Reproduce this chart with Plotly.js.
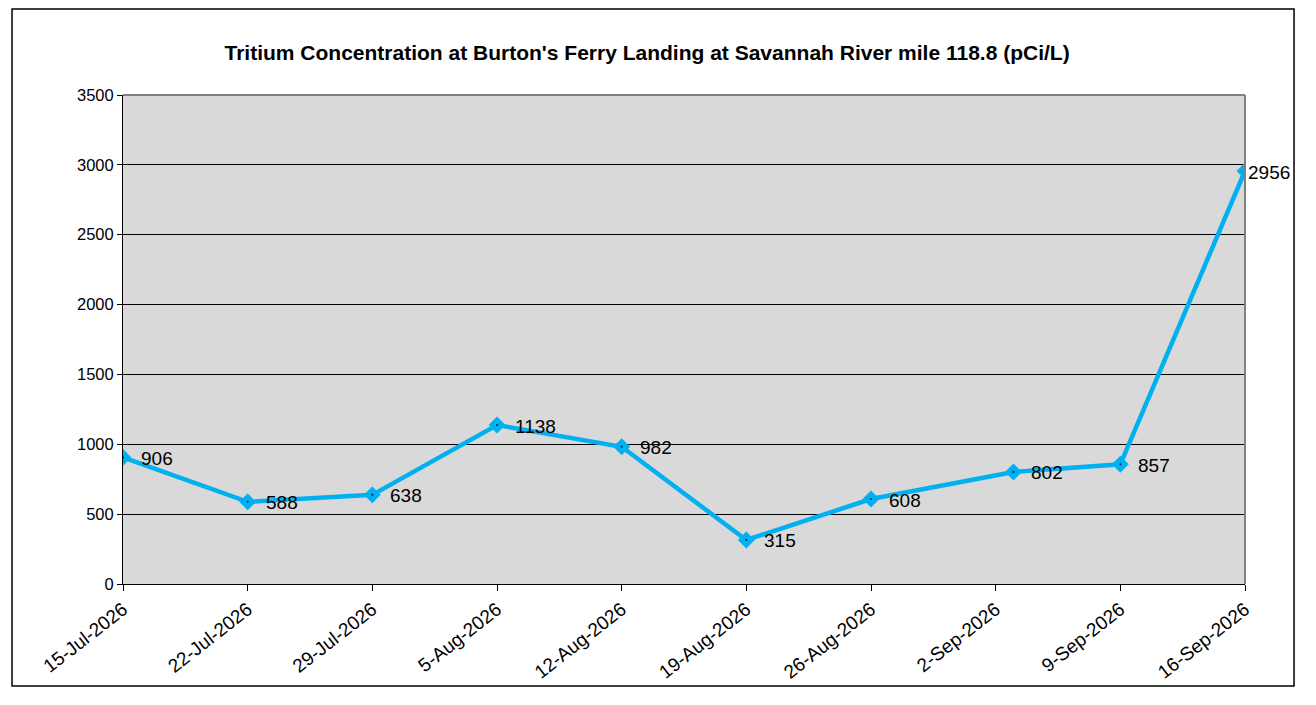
<!DOCTYPE html>
<html>
<head>
<meta charset="utf-8">
<script src="https://cdn.plot.ly/plotly-3.0.1.min.js"></script>
<style>
  html, body { margin: 0; padding: 0; background: #fff; }
  #chart { width: 1316px; height: 705px; }
</style>
</head>
<body>
<div id="chart"></div>
<script>
// sample dates and tritium results (pCi/L)
const sampleDates = ['2026-07-15', '2026-07-22', '2026-07-29', '2026-08-05', '2026-08-12',
                     '2026-08-19', '2026-08-26', '2026-09-03', '2026-09-09', '2026-09-16'];
const tritium = [906, 588, 638, 1138, 982, 315, 608, 802, 857, 2956];

// weekly axis ticks
const tickDates = ['2026-07-15', '2026-07-22', '2026-07-29', '2026-08-05', '2026-08-12',
                   '2026-08-19', '2026-08-26', '2026-09-02', '2026-09-09', '2026-09-16'];
const tickLabels = ['15-Jul-2026', '22-Jul-2026', '29-Jul-2026', '5-Aug-2026', '12-Aug-2026',
                    '19-Aug-2026', '26-Aug-2026', '2-Sep-2026', '9-Sep-2026', '16-Sep-2026'];

const lineColor = '#00B0F0';
const font = 'Liberation Sans, Arial, sans-serif';

document.addEventListener("DOMContentLoaded", function () {
    let chart = document.getElementById("chart");

    let series = {
        x: sampleDates,
        y: tritium,
        type: 'scatter',
        mode: 'lines+markers',
        line: { color: lineColor, width: 4.5 },
        marker: { symbol: 'diamond', size: 13, color: lineColor },
        hoverinfo: 'x+y'
    };
    // little dark centre dot like the original markers
    let dots = {
        x: sampleDates,
        y: tritium,
        type: 'scatter',
        mode: 'markers',
        marker: { symbol: 'circle', size: 2, color: '#002060' },
        hoverinfo: 'skip'
    };

    let labels = sampleDates.map(function (d, i) {
        return {
            x: d, y: tritium[i], xref: 'x', yref: 'y',
            text: String(tritium[i]),
            showarrow: false,
            xanchor: 'left', yanchor: 'middle',
            xshift: i === sampleDates.length - 1 ? 1 : 16,
            yshift: -1,
            font: { family: font, size: 19, color: '#000' }
        };
    });

    let layout = {
        width: 1316,
        height: 705,
        margin: { l: 123, r: 71, t: 95, b: 121 },
        paper_bgcolor: '#fff',
        plot_bgcolor: '#d9d9d9',
        showlegend: false,
        title: {
            text: "Tritium Concentration at Burton's Ferry Landing at Savannah River mile 118.8 (pCi/L)",
            font: { family: font, size: 21, color: '#000', weight: 'bold' },
            xref: 'container', x: 0.4917,
            yref: 'container', y: 0.925, yanchor: 'middle'
        },
        xaxis: {
            type: 'date',
            range: ['2026-07-15', '2026-09-16'],
            tickvals: tickDates,
            ticktext: tickLabels,
            tickangle: -38,
            ticks: 'outside', ticklen: 6, tickcolor: '#000', tickwidth: 1,
            showline: true, linecolor: '#000', linewidth: 1,
            showgrid: false, zeroline: false,
            tickfont: { family: font, size: 19, color: '#000' }
        },
        yaxis: {
            range: [0, 3500],
            dtick: 500,
            ticks: 'outside', ticklen: 5, tickcolor: '#000', tickwidth: 1,
            showline: true, linecolor: '#000', linewidth: 1,
            showgrid: true, gridcolor: '#000', gridwidth: 1,
            zeroline: false,
            tickfont: { family: font, size: 16.5, color: '#000' }
        },
        annotations: labels,
        shapes: [
            // grey top and right edges of plot area
            { type: 'line', xref: 'paper', yref: 'paper', x0: 0, x1: 1, y0: 1, y1: 1,
              line: { color: '#808080', width: 2 } },
            { type: 'line', xref: 'paper', yref: 'paper', x0: 1, x1: 1, y0: 0, y1: 1,
              line: { color: '#808080', width: 2 } },
            // outer chart border
            { type: 'rect', xref: 'paper', yref: 'paper',
              x0: -0.0989, x1: 1.0437, y0: -0.2086, y1: 1.1759,
              line: { color: '#000', width: 1.5 } }
        ]
    };

    Plotly.newPlot(chart, [series, dots], layout, { displayModeBar: false, staticPlot: true });
});
</script>
</body>
</html>
